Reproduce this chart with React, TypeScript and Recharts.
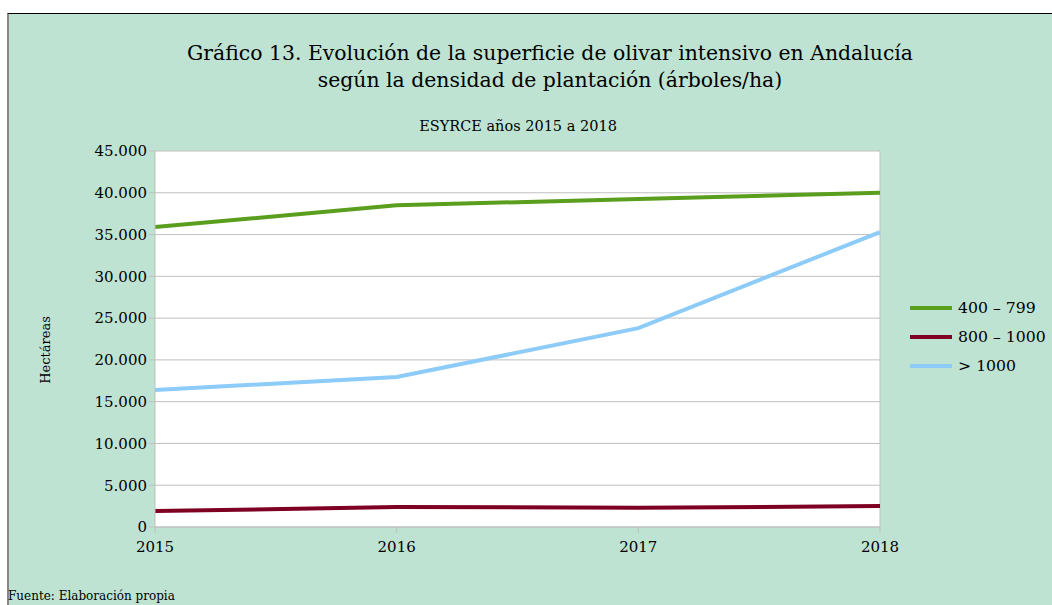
import React from "react";
import { LineChart, Line, XAxis, YAxis, CartesianGrid, ReferenceLine } from "recharts";

const years = ["2015", "2016", "2017", "2018"];
const s400 = [35900, 38500, 39250, 40000];
const s800 = [1900, 2400, 2300, 2500];
const s1000 = [16400, 17950, 23800, 35300];
const yTicks = [0, 5000, 10000, 15000, 20000, 25000, 30000, 35000, 40000, 45000];
const seriesNames = ["400 – 799", "800 – 1000", "> 1000"];
const seriesColors = ["#5A9E1E", "#7E0023", "#8DCBF8"];

const data = years.map((y, i) => ({ year: y, a: s400[i], b: s800[i], c: s1000[i] }));

const FONT = "'DejaVu Serif', serif";
const fmt = (v: number) => (v === 0 ? "0" : v.toLocaleString("de-DE"));

export default function App() {
  return (
    <div style={{ position: "absolute", left: 0, top: 0, width: 1052, height: 605, background: "#fff", overflow: "hidden" }}>
      <div style={{ position: "absolute", left: 7, top: 13, width: 1045, height: 592, background: "#BFE3D3", borderTop: "1.5px solid #000", borderLeft: "2px solid #888", boxSizing: "border-box" }} />
      <div style={{ position: "absolute", left: 0, top: 0 }}>
        <LineChart width={1052} height={605} data={data} margin={{ top: 151, right: 172, left: 95, bottom: 48 }}>
          <CartesianGrid vertical={false} stroke="#BFBFBF" fill="#fff" strokeWidth={1} />
          <XAxis dataKey="year" padding={{ left: 0, right: 0 }} height={30} stroke="#BFBFBF" tickSize={6}
            tick={{ fill: "#000", fontFamily: FONT, fontSize: 15, dy: 6 }} />
          <YAxis width={60} domain={[0, 45000]} ticks={yTicks} tickFormatter={fmt} stroke="#BFBFBF" tickSize={6}
            tick={{ fill: "#000", fontFamily: FONT, fontSize: 15 }} interval={0} />
          <ReferenceLine x="2018" stroke="#BFBFBF" />
          <Line dataKey="a" name={seriesNames[0]} stroke={seriesColors[0]} strokeWidth={4} dot={false} isAnimationActive={false} />
          <Line dataKey="b" name={seriesNames[1]} stroke={seriesColors[1]} strokeWidth={4} dot={false} isAnimationActive={false} />
          <Line dataKey="c" name={seriesNames[2]} stroke={seriesColors[2]} strokeWidth={4} dot={false} isAnimationActive={false} />
        </LineChart>
      </div>
      <div style={{ position: "absolute", left: 910, top: 293, fontFamily: FONT, fontSize: 15.7, color: "#000" }}>
        {seriesNames.map((n, i) => (
          <div key={i} style={{ display: "flex", alignItems: "center", height: 29 }}>
            <div style={{ width: 42, height: 4, background: seriesColors[i], marginRight: 6 }} />
            <span style={{ whiteSpace: "nowrap" }}>{n}</span>
          </div>
        ))}
      </div>
      <div style={{ position: "absolute", left: 150, width: 800, top: 40, textAlign: "center", fontFamily: FONT, fontSize: 20.4, lineHeight: "27px", color: "#000" }}>
        Gráfico 13. Evolución de la superficie de olivar intensivo en Andalucía<br />según la densidad de plantación (árboles/ha)
      </div>
      <div style={{ position: "absolute", left: 318, width: 400, top: 118, textAlign: "center", fontFamily: FONT, fontSize: 14.5, color: "#000" }}>
        ESYRCE años 2015 a 2018
      </div>
      <div style={{ position: "absolute", left: 45, top: 350, transform: "translate(-50%, -50%) rotate(-90deg)", fontFamily: FONT, fontSize: 13, color: "#000", whiteSpace: "nowrap" }}>
        Hectáreas
      </div>
      <div style={{ position: "absolute", left: 8, top: 589, fontFamily: FONT, fontSize: 12, color: "#000", whiteSpace: "nowrap" }}>
        Fuente: Elaboración propia
      </div>
    </div>
  );
}
